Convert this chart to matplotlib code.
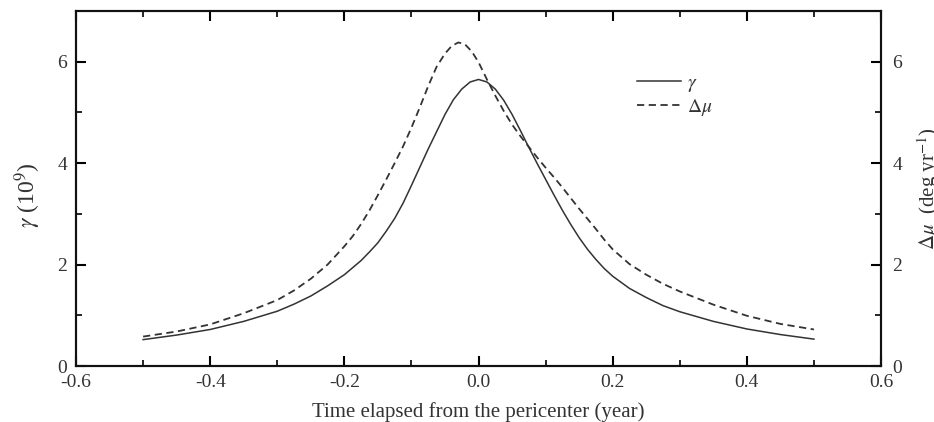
import matplotlib
matplotlib.use("Agg")
import matplotlib.pyplot as plt
from matplotlib.ticker import MultipleLocator

# time from pericenter (year) and gamma (10^9)
t_gamma = [-0.5, -0.45, -0.4, -0.35, -0.3, -0.275, -0.25, -0.225, -0.2, -0.1875,
           -0.175, -0.1625, -0.15, -0.1375, -0.125, -0.1125, -0.1, -0.0875, -0.075,
           -0.0625, -0.05, -0.0375, -0.025, -0.0125, 0.0, 0.0125, 0.025, 0.0375,
           0.05, 0.0625, 0.075, 0.0875, 0.1, 0.1125, 0.125, 0.1375, 0.15, 0.1625,
           0.175, 0.1875, 0.2, 0.225, 0.25, 0.275, 0.3, 0.35, 0.4, 0.45, 0.5]
gamma = [0.52, 0.61, 0.72, 0.88, 1.08, 1.22, 1.38, 1.58, 1.80, 1.94,
         2.08, 2.25, 2.43, 2.66, 2.91, 3.21, 3.56, 3.92, 4.28,
         4.62, 4.96, 5.25, 5.46, 5.60, 5.65, 5.60, 5.46, 5.24,
         4.96, 4.64, 4.31, 3.99, 3.68, 3.37, 3.07, 2.79, 2.53, 2.30,
         2.10, 1.92, 1.77, 1.53, 1.35, 1.19, 1.07, 0.88, 0.73, 0.62, 0.53]

# time from pericenter (year) and delta mu (deg/yr)
t_dmu = [-0.5, -0.45, -0.4, -0.35, -0.3, -0.275, -0.25, -0.225, -0.2, -0.1875,
         -0.175, -0.1625, -0.15, -0.1375, -0.125, -0.1125, -0.1, -0.0875, -0.075,
         -0.0625, -0.05, -0.04, -0.03, -0.02, -0.01, 0.0, 0.0125, 0.025, 0.0375,
         0.05, 0.0625, 0.075, 0.0875, 0.1, 0.1125, 0.125, 0.1375, 0.15, 0.1625,
         0.175, 0.1875, 0.2, 0.225, 0.25, 0.275, 0.3, 0.35, 0.4, 0.45, 0.5]
dmu = [0.58, 0.68, 0.82, 1.04, 1.30, 1.49, 1.72, 2.00, 2.36, 2.56,
       2.80, 3.07, 3.37, 3.68, 4.00, 4.33, 4.70, 5.10, 5.52,
       5.90, 6.16, 6.31, 6.38, 6.34, 6.20, 5.99, 5.65, 5.33, 5.03,
       4.76, 4.53, 4.32, 4.11, 3.91, 3.72, 3.52, 3.31, 3.10, 2.90,
       2.70, 2.49, 2.30, 2.01, 1.80, 1.62, 1.47, 1.21, 0.99, 0.83, 0.72]

plt.rcParams['font.family'] = ['Liberation Serif', 'DejaVu Serif']
plt.rcParams['mathtext.fontset'] = 'stix'

col = '#333333'
fig = plt.figure(figsize=(9.34, 4.22), dpi=100)
ax = fig.add_axes([0.0814, 0.1327, 0.8619, 0.8413])
ax2 = ax.twinx()

l1, = ax.plot(t_gamma, gamma, color=col, lw=1.1, ls='-', label=r'$\gamma$')
l2, = ax2.plot(t_dmu, dmu, color=col, lw=1.3, ls=(0, (4, 2.5)), label=r'$\Delta\mu$')

ax.set_xlim(-0.6, 0.6)
ax.set_ylim(0, 7)
ax2.set_ylim(0, 7)
ax.xaxis.set_major_locator(MultipleLocator(0.2))
ax.xaxis.set_minor_locator(MultipleLocator(0.1))
for a in (ax, ax2):
    a.yaxis.set_major_locator(MultipleLocator(2))
    a.yaxis.set_minor_locator(MultipleLocator(1))
    for s in a.spines.values():
        s.set_linewidth(1.5)
        s.set_color('#111111')

ax.tick_params(axis='x', which='major', direction='in', length=7, width=1.5,
               labelsize=14, labelcolor=col, top=True, pad=5.6)
ax.tick_params(axis='y', which='major', direction='in', length=7, width=1.5,
               labelsize=14, labelcolor=col, right=False, pad=6.4)
ax.tick_params(axis='both', which='minor', direction='in', length=4, width=1.2,
               top=True, right=False)
ax2.tick_params(axis='y', which='major', direction='in', length=7, width=1.5,
                labelsize=14, labelcolor=col, pad=8)
ax2.tick_params(axis='y', which='minor', direction='in', length=4, width=1.2)

ax.set_xticklabels([f'{v:.1f}' for v in ax.get_xticks()])
ax.set_xlabel('Time elapsed from the pericenter (year)', fontsize=15, color=col, labelpad=8)
ax.set_ylabel(r'$\gamma$ (10$^9$)', fontsize=17, color=col)
ax.yaxis.set_label_coords(-0.041, 0.48)
ax2.set_ylabel(r'$\Delta\mu$  (deg yr$^{-1}$)', fontsize=15, color=col)
ax2.yaxis.set_label_coords(1.043, 0.5)

leg = ax.legend(handles=[l1, l2], loc='upper left', bbox_to_anchor=(0.6745, 0.87),
                frameon=False, fontsize=14, handlelength=2.3, handletextpad=0.3,
                labelspacing=0.15, labelcolor=col)

fig.savefig('out.png', dpi=100)
